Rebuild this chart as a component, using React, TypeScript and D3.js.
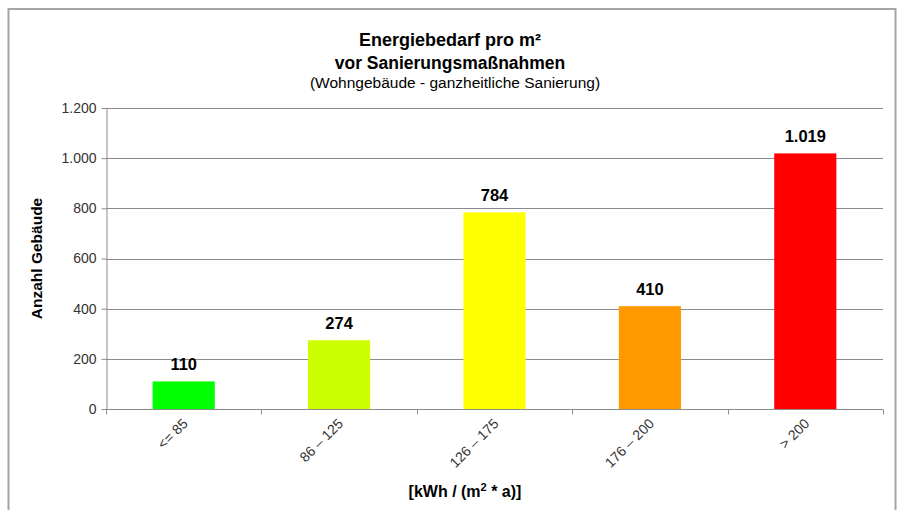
import React, { useEffect, useRef } from 'react';
import * as d3 from 'd3';

const categories = ['<= 85', '86 – 125', '126 – 175', '176 – 200', '> 200'];
const counts = [110, 274, 784, 410, 1019];
const barColors = ['#00ff00', '#ccff00', '#ffff00', '#ff9900', '#ff0000'];
const yTicks = [0, 200, 400, 600, 800, 1000, 1200];

const de = d3.formatLocale({ decimal: ',', thousands: '.', grouping: [3], currency: ['', ' €'] });
const fmt = de.format(',d');

const App = () => {
    const svgRef = useRef<SVGSVGElement>(null);

    useEffect(() => {
        document.body.style.margin = '0';

        const width = 897;
        const height = 510;
        const marginLeft = 106;
        const marginRight = 14;
        const marginTop = 108;
        const plotBottom = 409;
        const font = 'Liberation Sans, Arial, sans-serif';

        const svg = d3.select(svgRef.current)
            .attr('width', width)
            .attr('height', height)
            .attr('viewBox', [0, 0, width, height])
            .style('display', 'block')
            .style('font-family', font);
        svg.selectAll('*').remove();

        svg.append('rect')
            .attr('width', width).attr('height', height).attr('fill', '#fff');

        // outer frame
        svg.append('rect')
            .attr('x', 8.5).attr('y', 9)
            .attr('width', 887).attr('height', 520)
            .attr('fill', 'none').attr('stroke', '#a6a6a6').attr('stroke-width', 2);

        const x = d3.scaleBand()
            .domain(categories)
            .range([marginLeft, width - marginRight])
            .paddingInner(0.6)
            .paddingOuter(0.3);

        const band = d3.scaleBand()
            .domain(categories)
            .range([marginLeft, width - marginRight]);

        const y = d3.scaleLinear()
            .domain([0, 1200])
            .range([plotBottom, marginTop]);

        // grid
        svg.append('g')
            .selectAll('line')
            .data(yTicks.filter(d => d > 0))
            .join('line')
            .attr('x1', marginLeft).attr('x2', width - marginRight)
            .attr('y1', d => Math.round(y(d)) + 0.5).attr('y2', d => Math.round(y(d)) + 0.5)
            .attr('stroke', '#8c8c8c');

        // bars
        svg.append('g')
            .selectAll('rect')
            .data(categories)
            .join('rect')
            .attr('x', d => x(d)!)
            .attr('y', (d, i) => y(counts[i]))
            .attr('width', x.bandwidth())
            .attr('height', (d, i) => y(0) - y(counts[i]))
            .attr('fill', (d, i) => barColors[i]);

        // value labels
        svg.append('g')
            .attr('text-anchor', 'middle')
            .attr('font-weight', 'bold')
            .attr('font-size', 16.5)
            .attr('fill', '#000')
            .selectAll('text')
            .data(categories)
            .join('text')
            .attr('x', d => x(d)! + x.bandwidth() / 2)
            .attr('y', (d, i) => y(counts[i]) - 11)
            .text((d, i) => fmt(counts[i]));

        // y axis
        const yAxis = svg.append('g')
            .attr('transform', `translate(${marginLeft + 0.5},0)`)
            .call(d3.axisLeft(y).tickValues(yTicks).tickFormat(d => fmt(d as number)).tickSize(5).tickSizeOuter(0));
        yAxis.select('.domain').attr('stroke', '#8c8c8c');
        yAxis.selectAll('.tick line').attr('stroke', '#8c8c8c');
        yAxis.selectAll('.tick text')
            .attr('font-family', font).attr('font-size', 14).attr('fill', '#333').attr('x', -10);

        // x axis
        const xAxis = svg.append('g')
            .attr('transform', `translate(0,${plotBottom + 0.5})`);
        xAxis.append('line')
            .attr('x1', marginLeft).attr('x2', width - marginRight)
            .attr('stroke', '#8c8c8c');
        const bounds = categories.map(d => band(d)!).concat([width - marginRight]);
        xAxis.selectAll('line.tk')
            .data(bounds)
            .join('line')
            .attr('class', 'tk')
            .attr('x1', d => Math.round(d) + 0.5).attr('x2', d => Math.round(d) + 0.5)
            .attr('y1', 0).attr('y2', 5)
            .attr('stroke', '#8c8c8c');
        xAxis.selectAll('text')
            .data(categories)
            .join('text')
            .attr('transform', d => `translate(${band(d)! + band.bandwidth() / 2 + 5},${15}) rotate(-45)`)
            .attr('text-anchor', 'end')
            .attr('font-size', 14)
            .attr('fill', '#333')
            .text(d => d);

        // titles
        const title = svg.append('g')
            .attr('text-anchor', 'middle')
            .attr('fill', '#000');
        title.append('text')
            .attr('x', 450).attr('y', 46)
            .attr('font-weight', 'bold').attr('font-size', 18)
            .text('Energiebedarf pro m²');
        title.append('text')
            .attr('x', 450).attr('y', 69)
            .attr('font-weight', 'bold').attr('font-size', 17.5)
            .text('vor Sanierungsmaßnahmen');
        title.append('text')
            .attr('x', 455).attr('y', 88)
            .attr('font-size', 15.5)
            .text('(Wohngebäude - ganzheitliche Sanierung)');

        // axis titles
        svg.append('text')
            .attr('transform', `translate(42,${(marginTop + plotBottom) / 2}) rotate(-90)`)
            .attr('text-anchor', 'middle')
            .attr('font-weight', 'bold').attr('font-size', 15.5)
            .text('Anzahl Gebäude');

        const xt = svg.append('text')
            .attr('x', 465).attr('y', 497)
            .attr('text-anchor', 'middle')
            .attr('font-weight', 'bold').attr('font-size', 16);
        xt.append('tspan').text('[kWh / (m');
        xt.append('tspan').attr('font-size', 11).attr('dy', -6).text('2');
        xt.append('tspan').attr('dy', 6).text(' * a)]');
    }, []);

    return <svg ref={svgRef}></svg>;
};

export default App;
